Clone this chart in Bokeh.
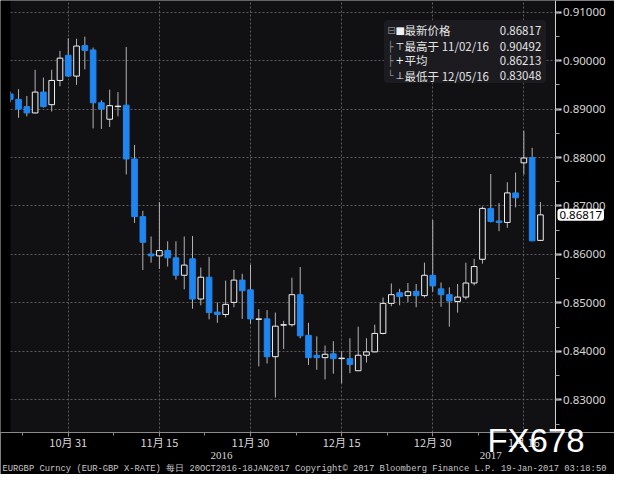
from bokeh.plotting import figure
from bokeh.models import (FixedTicker, SingleIntervalTicker, Label, BoxAnnotation, LinearAxis,
                          ColumnDataSource, NumeralTickFormatter)
from bokeh.embed import file_html
from bokeh.resources import INLINE

# ---------------- data (EURGBP daily, 20 Oct 2016 - 18 Jan 2017) ----------------
dates = ["2016-10-20", "2016-10-21", "2016-10-24", "2016-10-25", "2016-10-26", "2016-10-27",
         "2016-10-28", "2016-10-31", "2016-11-01", "2016-11-02", "2016-11-03", "2016-11-04",
         "2016-11-07", "2016-11-08", "2016-11-09", "2016-11-10", "2016-11-11", "2016-11-14",
         "2016-11-15", "2016-11-16", "2016-11-17", "2016-11-18", "2016-11-21", "2016-11-22",
         "2016-11-23", "2016-11-24", "2016-11-25", "2016-11-28", "2016-11-29", "2016-11-30",
         "2016-12-01", "2016-12-02", "2016-12-05", "2016-12-06", "2016-12-07", "2016-12-08",
         "2016-12-09", "2016-12-12", "2016-12-13", "2016-12-14", "2016-12-15", "2016-12-16",
         "2016-12-19", "2016-12-20", "2016-12-21", "2016-12-22", "2016-12-23", "2016-12-26",
         "2016-12-27", "2016-12-28", "2016-12-29", "2016-12-30", "2017-01-02", "2017-01-03",
         "2017-01-04", "2017-01-05", "2017-01-06", "2017-01-09", "2017-01-10", "2017-01-11",
         "2017-01-12", "2017-01-13", "2017-01-16", "2017-01-17", "2017-01-18"]
opens = [0.8931, 0.8920, 0.8905, 0.8892, 0.8935, 0.8909, 0.8959, 0.9011, 0.8968, 0.9031,
         0.9022, 0.8913, 0.8879, 0.8905, 0.8908, 0.8797, 0.8678, 0.8601, 0.8597, 0.8608,
         0.8593, 0.8557, 0.8591, 0.8508, 0.8553, 0.8481, 0.8476, 0.8501, 0.8547, 0.8527,
         0.8466, 0.8467, 0.8389, 0.8454, 0.8455, 0.8517, 0.8433, 0.8392, 0.8387, 0.8395,
         0.8385, 0.8385, 0.8360, 0.8392, 0.8399, 0.8437, 0.8499, 0.8521, 0.8515, 0.8524,
         0.8515, 0.8557, 0.8529, 0.8517, 0.8503, 0.8512, 0.8541, 0.8590, 0.8695, 0.8669,
         0.8666, 0.8727, 0.8789, 0.8800, 0.8629]
highs = [0.8936, 0.8941, 0.8927, 0.8981, 0.8965, 0.8981, 0.9020, 0.9046, 0.9045, 0.90492,
         0.9027, 0.8918, 0.8940, 0.8935, 0.9028, 0.8826, 0.8690, 0.8637, 0.8708, 0.8627,
         0.8627, 0.8637, 0.8638, 0.8573, 0.8595, 0.8501, 0.8546, 0.8568, 0.8560, 0.8579,
         0.8487, 0.8485, 0.8480, 0.8463, 0.8552, 0.8574, 0.8459, 0.8431, 0.8412, 0.8421,
         0.8400, 0.8427, 0.8451, 0.8427, 0.8455, 0.8511, 0.8540, 0.8529, 0.8541, 0.8539,
         0.8583, 0.8671, 0.8542, 0.8532, 0.8539, 0.8583, 0.8591, 0.8699, 0.8766, 0.8706,
         0.8749, 0.8769, 0.8855, 0.8820, 0.8708]
lows = [0.8914, 0.8882, 0.8885, 0.8891, 0.8903, 0.8895, 0.8947, 0.8966, 0.8950, 0.8982,
        0.8860, 0.8859, 0.8863, 0.8885, 0.8765, 0.8665, 0.8568, 0.8583, 0.8570, 0.8575,
        0.8548, 0.8528, 0.8488, 0.8495, 0.8466, 0.8459, 0.8470, 0.8491, 0.8467, 0.8457,
        0.8369, 0.8375, 0.83048, 0.8405, 0.8451, 0.8427, 0.8372, 0.8362, 0.8342, 0.8354,
        0.8334, 0.8355, 0.8360, 0.8377, 0.8398, 0.8435, 0.8493, 0.8495, 0.8502, 0.8491,
        0.8511, 0.8523, 0.8492, 0.8451, 0.8480, 0.8507, 0.8536, 0.8581, 0.8666, 0.8648,
        0.8655, 0.8697, 0.8765, 0.8628, 0.8629]
closes = [0.8920, 0.8900, 0.8892, 0.8935, 0.8905, 0.8959, 0.9005, 0.8968, 0.9030, 0.9021,
          0.8913, 0.8900, 0.8907, 0.8906, 0.8797, 0.8678, 0.8625, 0.8597, 0.8608, 0.8593,
          0.8557, 0.8578, 0.8508, 0.8553, 0.8480, 0.8476, 0.8497, 0.8547, 0.8525, 0.8467,
          0.8467, 0.8389, 0.8452, 0.8455, 0.8517, 0.8432, 0.8387, 0.8387, 0.8394, 0.8385,
          0.8386, 0.8373, 0.8392, 0.8399, 0.8437, 0.8499, 0.8517, 0.8513, 0.8523, 0.8515,
          0.8557, 0.8535, 0.8517, 0.8504, 0.8512, 0.8541, 0.8575, 0.8695, 0.8668, 0.8666,
          0.8727, 0.8717, 0.8799, 0.8628, 0.86817]

xtick_dates = ["2016-10-31", "2016-11-15", "2016-11-30", "2016-12-15", "2016-12-30", "2017-01-16"]
xtick_labels = ["10月 31", "11月 15", "11月 30", "12月 15", "12月 30", "1月 16"]
years = ["2016", "2017"]

legend_names = ["最新价格", "最高于 11/02/16", "平均", "最低于 12/05/16"]
legend_values = ["0.86817", "0.90492", "0.86213", "0.83048"]
legend_tree = ["⊟", "├", "├", "└"]
legend_icons = ["■", "⊤", "+", "⊥"]

last_price = "0.86817"
footer = ("EURGBP Curncy (EUR-GBP X-RATE)  每日 20OCT2016-18JAN2017   "
          "Copyright© 2017 Bloomberg Finance L.P.   19-Jan-2017 03:18:50")
watermark = "FX678"

# ---------------- layout (data space of the whole canvas) ----------------
X_LEFT, X_PLOT_END, X_RIGHT = -1.18, 65.76, 72.94      # canvas left, price-axis line, canvas right
Y_BOTTOM, Y_PLOT_BOTTOM, Y_TOP = 0.81459, 0.82317, 0.9124

idx = list(range(len(dates)))
up = dict(x=[], top=[], bottom=[])
dn = dict(x=[], top=[], bottom=[])
for i, o, c in zip(idx, opens, closes):
    d = up if c >= o else dn
    d["x"].append(i)
    d["top"].append(max(o, c))
    d["bottom"].append(min(o, c))

BG = "#111114"
BLUE = "#1f86f0"
TXT = "#d6d6d6"

p = figure(width=614, height=474, output_backend="svg", toolbar_location=None,
           x_range=(X_LEFT, X_RIGHT), y_range=(Y_BOTTOM, Y_TOP), y_axis_location="right",
           background_fill_color="#000000", border_fill_color="#000000",
           min_border=0)
p.outline_line_color = None

# plot-area background (lowest level, below the grid)
p.add_layout(BoxAnnotation(left=0, right=X_PLOT_END, bottom=Y_PLOT_BOTTOM, top=Y_TOP,
                           fill_color=BG, fill_alpha=1, line_color=None, level="image"))

# wicks
p.segment(x0=idx, y0=highs, x1=idx, y1=lows, line_color="#b4b4b4", line_width=1)
# bodies
p.vbar(x="x", top="top", bottom="bottom", width=0.68, source=ColumnDataSource(dn),
       fill_color=BLUE, line_color=BLUE, line_width=1)
p.vbar(x="x", top="top", bottom="bottom", width=0.68, source=ColumnDataSource(up),
       fill_color=BG, line_color="#f0f0f0", line_width=1)

# black margin strip on the left (cuts the first candle like the original)
p.add_layout(BoxAnnotation(left=X_LEFT, right=0, bottom=Y_PLOT_BOTTOM + 0.0002, top=Y_TOP,
                           fill_color="#000000", fill_alpha=1, line_color=None))

# date axis
major = [dates.index(d) for d in xtick_dates]
minor = [m - 5.5 for m in major]
xa = p.xaxis[0]
xa.fixed_location = Y_PLOT_BOTTOM
xa.ticker = FixedTicker(ticks=major, minor_ticks=minor)
xa.major_label_overrides = {m: lab for m, lab in zip(major, xtick_labels)}
xa.axis_line_color = "#8a8a8a"
xa.major_tick_line_color = "#8a8a8a"
xa.minor_tick_line_color = "#8a8a8a"
xa.major_tick_in = 0
xa.major_tick_out = 4
xa.minor_tick_in = 0
xa.minor_tick_out = 3
xa.major_label_standoff = -3
xa.major_label_text_color = TXT
xa.major_label_text_font = "Noto Sans CJK SC"
xa.major_label_text_font_size = "11px"

# year axis (second row under dates)
year_pos = []
for yr in years:
    pos = [i for i, d in zip(idx, dates) if d.startswith(yr)]
    year_pos.append((pos[0] + pos[-1]) / 2)
yax = LinearAxis(ticker=FixedTicker(ticks=year_pos, minor_ticks=[]),
                 major_label_overrides={yp: yr for yp, yr in zip(year_pos, years)},
                 fixed_location=0.81926,
                 axis_line_color=None, major_tick_line_color=None, minor_tick_line_color=None,
                 major_tick_in=0, major_tick_out=0, major_label_standoff=0,
                 major_label_text_color=TXT, major_label_text_font="Liberation Serif",
                 major_label_text_font_size="11px")
p.add_layout(yax, "below")

# price axis
ya = p.yaxis[0]
ya.fixed_location = X_PLOT_END
ya.bounds = (0.8235, Y_TOP)
ya.ticker = SingleIntervalTicker(interval=0.01, num_minor_ticks=2)
ya.formatter = NumeralTickFormatter(format="0.00000")
ya.axis_line_color = "#d0d0d0"
ya.major_tick_line_color = "#e0e0e0"
ya.major_tick_line_width = 2
ya.major_tick_in = 0
ya.major_tick_out = 6
ya.minor_tick_line_color = "#a0a0a0"
ya.minor_tick_in = 0
ya.minor_tick_out = 4
ya.major_label_standoff = 2
ya.major_label_text_color = TXT
ya.major_label_text_font = "Noto Sans"
ya.major_label_text_font_size = "11.5px"

p.ygrid.cross_bounds = (0, X_PLOT_END)
p.xgrid.cross_bounds = (Y_PLOT_BOTTOM, Y_TOP)
for g in (p.xgrid, p.ygrid):
    g.grid_line_color = "#5c5c5c"
    g.grid_line_dash = "2 2"
    g.grid_line_width = 1

# footer
p.add_layout(Label(x=-0.94, y=0.81570, text=footer, text_align="left", text_baseline="middle",
                   text_color="#c8c8c8", text_font="Liberation Mono", text_font_size="8.8px"))

# legend box
p.add_layout(BoxAnnotation(left=45.1, right=64.7, top=0.9084, bottom=0.8954,
                           fill_color="#1b1b20", fill_alpha=1, line_color=None,
                           border_radius=4))
row_y = [0.90621, 0.90301, 0.90002, 0.89683]
for ry, tr, ic, nm, vl in zip(row_y, legend_tree, legend_icons, legend_names, legend_values):
    p.add_layout(Label(x=45.5, y=ry, text=tr, text_align="left", text_baseline="middle",
                       text_color="#8a8a8a", text_font="DejaVu Sans", text_font_size="10px"))
    p.add_layout(Label(x=46.5, y=ry, text=ic, text_align="left", text_baseline="middle",
                       text_color="#f0f0f0", text_font="DejaVu Sans", text_font_size="10px"))
    p.add_layout(Label(x=47.6, y=ry, text=nm, text_align="left", text_baseline="middle",
                       text_color="#e4e4e4", text_font="Noto Sans CJK SC",
                       text_font_size="11.5px"))
    p.add_layout(Label(x=64.1, y=ry, text=vl, text_align="right", text_baseline="middle",
                       text_color="#e4e4e4", text_font="Noto Sans CJK SC",
                       text_font_size="11.5px"))

# last price tag on the axis
p.add_layout(Label(x=66.05, y=closes[-1], text=last_price, text_align="left",
                   text_baseline="middle", text_color="#000000", text_font="Noto Sans",
                   text_font_size="11.5px", background_fill_color="#ffffff",
                   background_fill_alpha=1, padding=2, border_radius=3))

# watermark
p.add_layout(Label(x=57.6, y=0.82158, text=watermark, text_align="left",
                   text_baseline="middle", text_color="#ffffff",
                   text_font="Liberation Sans", text_font_size="33px"))

open("out.html", "w").write(file_html(p, INLINE))
